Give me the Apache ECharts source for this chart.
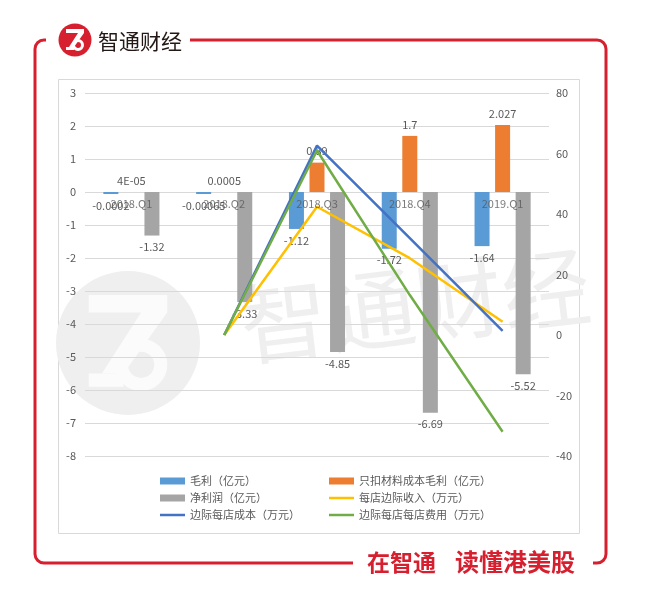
<!DOCTYPE html>
<html>
<head>
<meta charset="utf-8">
<script src="https://cdn.jsdelivr.net/npm/echarts@6/dist/echarts.min.js"></script>
<style>
  html, body { margin: 0; padding: 0; background: #ffffff; }
  #chart { width: 645px; height: 605px; }
</style>
</head>
<body>
<div id="chart"></div>
<script>
// Quarterly figures
const categories = ['2018.Q1', '2018.Q2', '2018.Q3', '2018.Q4', '2019.Q1'];
const grossProfit = [-0.0002, -0.00065, -1.12, -1.72, -1.64];          // 毛利（亿元）
const materialGrossProfit = [0.00004, 0.0005, 0.89, 1.7, 2.027];       // 只扣材料成本毛利（亿元）
const netProfit = [-1.32, -3.33, -4.85, -6.69, -5.52];                  // 净利润（亿元）
const storeMarginalRevenue = [null, 0, 42.4, 25.4, 4.4];                // 每店边际收入（万元）
const storeMarginalCost = [null, 0, 62.6, 32, 1.4];                     // 边际每店成本（万元）
const storeMarginalExpense = [null, 0, 61, 13.2, -32];                  // 边际每店每店费用（万元）
const leftTicks = { min: -8, max: 3, interval: 1 };
const rightTicks = { min: -40, max: 80, interval: 20 };

const FONT = '"Noto Sans CJK SC", "Microsoft YaHei", sans-serif';
const TEXT = '#595959';
const RED = '#d7202f';
const LINE_ICON = 'path://M0,0 L100,0 L100,10 L0,10 Z';

// Spreadsheet-style number text: tiny values in E notation
function fmt(v) {
  if (v !== 0 && Math.abs(v) < 1e-4) {
    const [m, e] = v.toExponential().split('e');
    const n = parseInt(e, 10);
    return m.toUpperCase() + 'E' + (n < 0 ? '-' : '+') + String(Math.abs(n)).padStart(2, '0');
  }
  return String(v);
}

const labelStyle = (pos) => ({
  show: true, position: pos, distance: 6,
  color: TEXT, fontSize: 11, fontFamily: FONT,
  formatter: (p) => fmt(p.value)
});

// Brand mark: a circle with a white "Z" and a loop
function logo(cx, cy, r, circleFill, glyphFill, z) {
  const s = r / 16.5;
  return {
    type: 'group', x: cx, y: cy, scaleX: s, scaleY: s, z: z, silent: true,
    children: [
      { type: 'circle', shape: { cx: 0, cy: 0, r: 16.5 }, style: { fill: circleFill }, z: z },
      { type: 'polygon', shape: { points: [[-9, -11], [9, -11], [9, -7], [-1, 7], [-6, 7], [3, -7], [-9, -7]] }, style: { fill: glyphFill }, z: z },
      { type: 'circle', shape: { cx: 3, cy: 5, r: 4.5 }, style: { fill: 'none', stroke: glyphFill, lineWidth: 3 }, z: z },
      { type: 'rect', shape: { x: -9, y: 7, width: 8, height: 3 }, style: { fill: glyphFill }, z: z }
    ]
  };
}

const frameStroke = { fill: 'none', stroke: RED, lineWidth: 3 };
function seg(points) {
  return { type: 'polyline', z: 100, silent: true, shape: { points: points }, style: frameStroke };
}
function corner(cx, cy, a0, a1) {
  return { type: 'arc', z: 100, silent: true, shape: { cx: cx, cy: cy, r: 9, startAngle: a0, endAngle: a1, clockwise: true }, style: frameStroke };
}
const P = Math.PI;

const chart = echarts.init(document.getElementById('chart'), null, { renderer: 'canvas' });

const legendText = { color: TEXT, fontSize: 11, lineHeight: 12, fontFamily: FONT };

chart.setOption({
  animation: false,
  backgroundColor: '#ffffff',
  textStyle: { fontFamily: FONT },
  grid: { left: 85, right: 96, top: 93, bottom: 149, containLabel: false },
  legend: [
    {
      orient: 'vertical', left: 155, top: 470, itemGap: 5,
      itemWidth: 25, itemHeight: 7, symbolKeepAspect: true,
      textStyle: legendText,
      data: [
        { name: '毛利（亿元）', icon: 'rect' },
        { name: '净利润（亿元）', icon: 'rect' },
        { name: '边际每店成本（万元）', icon: LINE_ICON }
      ]
    },
    {
      orient: 'vertical', left: 324, top: 470, itemGap: 5,
      itemWidth: 25, itemHeight: 7, symbolKeepAspect: true,
      textStyle: legendText,
      data: [
        { name: '只扣材料成本毛利（亿元）', icon: 'rect' },
        { name: '每店边际收入（万元）', icon: LINE_ICON },
        { name: '边际每店每店费用（万元）', icon: LINE_ICON }
      ]
    }
  ],
  xAxis: {
    type: 'category', data: categories,
    axisLine: { show: false },
    axisTick: { show: false },
    axisLabel: { show: false },
    splitLine: { show: false }
  },
  yAxis: [
    {
      type: 'value', min: leftTicks.min, max: leftTicks.max, interval: leftTicks.interval,
      axisLine: { show: false }, axisTick: { show: false },
      axisLabel: { color: TEXT, fontSize: 11, margin: 9, fontFamily: FONT },
      splitLine: { lineStyle: { color: '#d9d9d9', width: 1 } }
    },
    {
      type: 'value', min: rightTicks.min, max: rightTicks.max, interval: rightTicks.interval,
      axisLine: { show: false }, axisTick: { show: false },
      axisLabel: { color: TEXT, fontSize: 11, margin: 7, fontFamily: FONT },
      splitLine: { show: false }
    }
  ],
  series: [
    {
      name: '毛利（亿元）', type: 'bar', yAxisIndex: 0, data: grossProfit,
      barWidth: 15, barGap: '37%', barMinHeight: 2,
      itemStyle: { color: '#5b9bd5' }, label: labelStyle('bottom')
    },
    {
      name: '只扣材料成本毛利（亿元）', type: 'bar', yAxisIndex: 0, data: materialGrossProfit,
      barWidth: 15, barGap: '37%',
      itemStyle: { color: '#ed7d31' }, label: labelStyle('top')
    },
    {
      name: '净利润（亿元）', type: 'bar', yAxisIndex: 0, data: netProfit,
      barWidth: 15, barGap: '37%',
      itemStyle: { color: '#a5a5a5' }, label: labelStyle('bottom')
    },
    {
      name: '每店边际收入（万元）', type: 'line', yAxisIndex: 1, data: storeMarginalRevenue,
      symbol: 'none', z: 3, lineStyle: { color: '#ffc000', width: 2.5 }, itemStyle: { color: '#ffc000' }
    },
    {
      name: '边际每店成本（万元）', type: 'line', yAxisIndex: 1, data: storeMarginalCost,
      symbol: 'none', z: 3, lineStyle: { color: '#4472c4', width: 2.5 }, itemStyle: { color: '#4472c4' }
    },
    {
      name: '边际每店每店费用（万元）', type: 'line', yAxisIndex: 1, data: storeMarginalExpense,
      symbol: 'none', z: 3, lineStyle: { color: '#70ad47', width: 2.5 }, itemStyle: { color: '#70ad47' }
    },
    {
      // category names sitting on the zero line of the left axis
      name: 'category-labels', type: 'scatter', yAxisIndex: 0, z: 4, silent: true,
      symbol: 'circle', symbolSize: 1, itemStyle: { color: 'rgba(0,0,0,0)' },
      data: categories.map((c) => [c, 0]),
      label: {
        show: true, position: 'bottom', distance: 6,
        color: TEXT, fontSize: 11, fontFamily: FONT,
        formatter: (p) => p.value[0]
      },
      labelLayout: { hideOverlap: false }
    }
  ],
  graphic: [
    // faint watermark behind the plot
    logo(128, 343, 72, '#efefef', '#fbfbfb', -10),
    {
      type: 'text', x: 415, y: 305, rotation: 0.12, z: -10, silent: true,
      style: { text: '智通财经', font: '88px ' + FONT, fill: '#efefef', align: 'center', verticalAlign: 'middle' }
    },
    // inner chart box
    {
      type: 'rect', shape: { x: 58.5, y: 79.5, width: 521, height: 454 }, z: -20, silent: true,
      style: { fill: 'none', stroke: '#d9d9d9', lineWidth: 1 }
    },
    // red frame, broken by the brand mark at the top and the slogan at the bottom
    seg([[190, 40], [597, 40]]),
    corner(597, 49, -P / 2, 0),
    seg([[606, 49], [606, 554]]),
    corner(597, 554, 0, P / 2),
    seg([[597, 563], [593, 563]]),
    seg([[353, 563], [44, 563]]),
    corner(44, 554, P / 2, P),
    seg([[35, 554], [35, 49]]),
    corner(44, 49, P, 1.5 * P),
    seg([[44, 40], [46, 40]]),
    // header brand
    logo(75, 40, 16.5, RED, '#ffffff', 100),
    {
      type: 'text', x: 98, y: 41, z: 100, silent: true,
      style: { text: '智通财经', font: '21px ' + FONT, fill: '#231815', verticalAlign: 'middle' }
    },
    // footer slogan
    {
      type: 'text', x: 367, y: 562, z: 100, silent: true,
      style: { text: '在智通', font: 'bold 23px ' + FONT, fill: RED, verticalAlign: 'middle' }
    },
    {
      type: 'text', x: 455, y: 562, z: 100, silent: true,
      style: { text: '读懂港美股', font: 'bold 24px ' + FONT, fill: RED, verticalAlign: 'middle' }
    }
  ]
});
</script>
</body>
</html>
